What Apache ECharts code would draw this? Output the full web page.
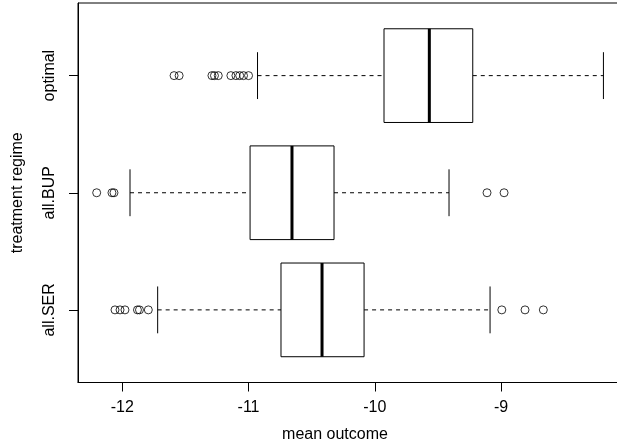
<!DOCTYPE html>
<html><head><meta charset="utf-8">
<script src="https://cdn.jsdelivr.net/npm/echarts@6/dist/echarts.min.js"></script>
<style>html,body{margin:0;padding:0;background:#fff}#c{width:617px;height:447px}</style>
</head><body><div id="c"></div>
<script>
// Data (bottom to top)
const categories = ['all.SER', 'all.BUP', 'optimal'];
const lowerWhisker = [-11.720, -11.939, -10.929];
const q1 = [-10.743, -10.988, -9.927];
const median = [-10.418, -10.656, -9.568];
const q3 = [-10.085, -10.323, -9.224];
const upperWhisker = [-9.087, -9.412, -8.189];
const outliersSER = [-12.058, -12.018, -11.979, -11.880, -11.864, -11.794, -8.994, -8.810, -8.665];
const outliersBUP = [-12.203, -12.082, -12.066, -9.111, -8.976];
const outliersOptimal = [-11.59, -11.55, -11.29, -11.27, -11.24, -11.14, -11.10, -11.07, -11.04, -11.00];
const xTicks = [-12, -11, -10, -9];
const yTicks = [1, 2, 3];

const BOX_HALF = 0.4, STAPLE_HALF = 0.2;
const FONT = "'Liberation Sans', Arial, Helvetica, sans-serif";

const boxData = categories.map((c, i) => [i + 1, lowerWhisker[i], q1[i], median[i], q3[i], upperWhisker[i]]);
const outlierSets = [outliersSER, outliersBUP, outliersOptimal];
const outlierData = [];
outlierSets.forEach((arr, i) => arr.forEach(v => outlierData.push([v, i + 1])));

function renderBox(params, api) {
  const pos = api.value(0);
  const lw = api.value(1), a = api.value(2), m = api.value(3), b = api.value(4), uw = api.value(5);
  const c = (x, y) => api.coord([x, y]);
  const yc = c(a, pos)[1];
  const yTop = c(a, pos + BOX_HALF)[1], yBot = c(a, pos - BOX_HALF)[1];
  const sTop = c(a, pos + STAPLE_HALF)[1], sBot = c(a, pos - STAPLE_HALF)[1];
  const xlw = c(lw, pos)[0], xa = c(a, pos)[0], xm = c(m, pos)[0], xb = c(b, pos)[0], xuw = c(uw, pos)[0];
  const thin = { stroke: '#000', lineWidth: 1 };
  const dash = { stroke: '#000', lineWidth: 1, lineDash: [4, 4] };
  return {
    type: 'group',
    children: [
      { type: 'line', shape: { x1: xlw, y1: yc, x2: xa, y2: yc }, style: dash },
      { type: 'line', shape: { x1: xb, y1: yc, x2: xuw, y2: yc }, style: dash },
      { type: 'line', shape: { x1: xlw, y1: sTop, x2: xlw, y2: sBot }, style: thin },
      { type: 'line', shape: { x1: xuw, y1: sTop, x2: xuw, y2: sBot }, style: thin },
      { type: 'rect', shape: { x: xa, y: yTop, width: xb - xa, height: yBot - yTop }, style: { fill: '#fff', stroke: '#000', lineWidth: 1 } },
      { type: 'line', shape: { x1: xm, y1: yTop, x2: xm, y2: yBot }, style: { stroke: '#000', lineWidth: 3 } }
    ]
  };
}

const chart = echarts.init(document.getElementById('c'), null, { renderer: 'canvas' });
chart.setOption({
  backgroundColor: '#fff',
  animation: false,
  grid: { left: 78, top: 3, width: 546, height: 379.5, outerBoundsMode: 'none', containLabel: false,
    show: true, borderColor: '#000', borderWidth: 1, backgroundColor: 'transparent' },
  xAxis: {
    type: 'value', min: -12.351, max: -8.026,
    splitLine: { show: false },
    axisLine: { show: true, lineStyle: { color: '#000', width: 1 } },
    axisTick: { show: true, customValues: xTicks, length: 9, lineStyle: { color: '#000' } },
    axisLabel: { customValues: xTicks, margin: 17, color: '#000', fontSize: 16, fontFamily: FONT },
    name: 'mean outcome', nameLocation: 'middle', nameGap: 44,
    nameTextStyle: { color: '#000', fontSize: 16, fontFamily: FONT, padding: [0, 32, 0, 0] }
  },
  yAxis: {
    type: 'value', min: 0.38, max: 3.62,
    splitLine: { show: false },
    axisLine: { show: true, lineStyle: { color: '#000', width: 1 } },
    axisTick: { show: true, customValues: yTicks, length: 9, lineStyle: { color: '#000' } },
    axisLabel: { customValues: yTicks, rotate: 90, margin: 20, color: '#000', fontSize: 16, fontFamily: FONT,
      formatter: v => categories[Math.round(v) - 1] },
    name: 'treatment regime', nameLocation: 'middle', nameGap: 52, nameRotate: 90,
    nameTextStyle: { color: '#000', fontSize: 16, fontFamily: FONT }
  },
  series: [
    { type: 'custom', renderItem: renderBox, data: boxData, encode: { x: [1, 2, 3, 4, 5], y: 0 }, silent: true, z: 2 },
    { type: 'scatter', data: outlierData, symbol: 'circle', symbolSize: 8,
      itemStyle: { color: 'transparent', borderColor: '#000', borderWidth: 1 }, silent: true, z: 3 }
  ]
});
</script></body></html>
